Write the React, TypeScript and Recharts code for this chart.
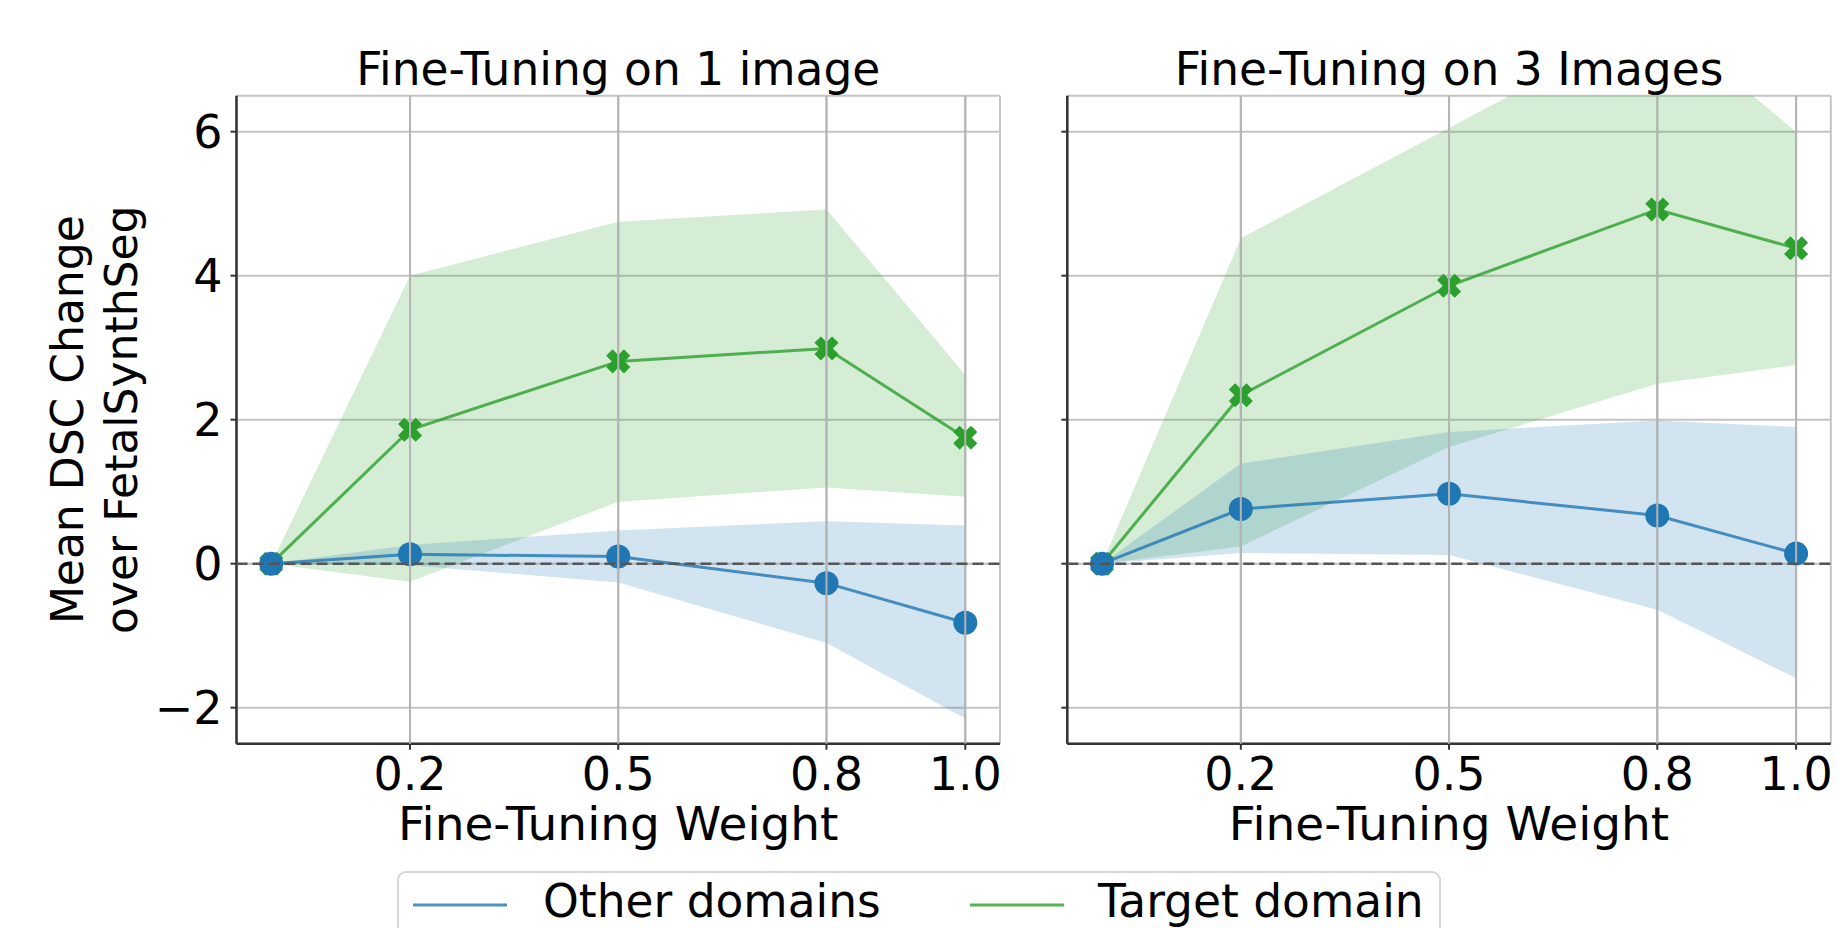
import React from 'react';
import {
  ComposedChart,
  Area,
  Line,
  XAxis,
  YAxis,
  CartesianGrid,
  ReferenceLine,
} from 'recharts';

// Fine-tuning weights (x values)
const weights = [0, 0.2, 0.5, 0.8, 1.0];
const xTicks = [0.2, 0.5, 0.8, 1.0];
const yTicks = [-2, 0, 2, 4, 6];

// Panel 1: Fine-Tuning on 1 image
const other1Mean = [0, 0.13, 0.1, -0.27, -0.82];
const other1Low = [0, -0.02, -0.26, -1.1, -2.15];
const other1High = [0, 0.26, 0.46, 0.59, 0.53];
const target1Mean = [0, 1.86, 2.81, 2.99, 1.75];
const target1Low = [0, -0.25, 0.86, 1.06, 0.93];
const target1High = [0, 4.0, 4.75, 4.92, 2.62];

// Panel 2: Fine-Tuning on 3 Images
const other3Mean = [0, 0.76, 0.97, 0.67, 0.14];
const other3Low = [0, 0.15, 0.12, -0.64, -1.59];
const other3High = [0, 1.39, 1.83, 1.99, 1.9];
const target3Mean = [0, 2.34, 3.86, 4.92, 4.38];
const target3Low = [0, 0.24, 1.62, 2.5, 2.76];
const target3High = [0, 4.52, 6.05, 7.6, 6.0];

const titles = ['Fine-Tuning on 1 image', 'Fine-Tuning on 3 Images'];
const xLabel = 'Fine-Tuning Weight';
const yLabelLines = ['Mean DSC Change', 'over FetalSynthSeg'];
const legendLabels = ['Other domains', 'Target domain'];

const BLUE = '#1f77b4';
const GREEN = '#2ca02c';
const FONT = 'DejaVu Sans';

function buildRows(oMean: number[], oLow: number[], oHigh: number[], tMean: number[], tLow: number[], tHigh: number[]) {
  return weights.map((w, i) => ({
    w,
    oMean: oMean[i],
    oBand: [oLow[i], oHigh[i]],
    tMean: tMean[i],
    tBand: [tLow[i], tHigh[i]],
  }));
}

const rows1 = buildRows(other1Mean, other1Low, other1High, target1Mean, target1Low, target1High);
const rows3 = buildRows(other3Mean, other3Low, other3High, target3Mean, target3Low, target3High);

const fmtY = (v: number) => (v < 0 ? `\u2212${Math.abs(v)}` : `${v}`);

function CircleDot(props: any) {
  const { cx, cy, index } = props;
  if (cx == null || cy == null) return <g key={`c-${index}`} />;
  return <circle key={`c-${index}`} cx={cx} cy={cy} r={12} fill={BLUE} />;
}

function XDot(props: any) {
  const { cx, cy, index } = props;
  if (cx == null || cy == null) return <g key={`x-${index}`} />;
  const s = 12.5;
  const w = 4.5;
  const pts = `${w},${s} ${w},${w} ${s},${w} ${s},${-w} ${w},${-w} ${w},${-s} ${-w},${-s} ${-w},${-w} ${-s},${-w} ${-s},${w} ${-w},${w} ${-w},${s}`;
  return (
    <polygon
      key={`x-${index}`}
      points={pts}
      transform={`translate(${cx},${cy}) rotate(45)`}
      fill={GREEN}
    />
  );
}

type PanelProps = {
  data: any[];
  left: number;
  width: number;
  yAxisWidth: number;
  marginRight: number;
  showYLabels: boolean;
};

const PLOT_TOP = 95.7;
const PLOT_BOTTOM = 743.7;
const H = 928;

function Panel({ data, left, width, yAxisWidth, marginRight, showYLabels }: PanelProps) {
  return (
    <div style={{ position: 'absolute', left, top: 0 }}>
      <ComposedChart
        width={width}
        height={H}
        data={data}
        margin={{ top: PLOT_TOP, right: marginRight, bottom: 0, left: 0 }}
      >
        <CartesianGrid stroke="#c4c4c4" strokeWidth={2} />
        <XAxis
          dataKey="w"
          type="number"
          domain={[-0.05, 1.05]}
          ticks={xTicks}
          interval={0}
          height={H - PLOT_BOTTOM}
          tickFormatter={(v: number) => v.toFixed(1)}
          axisLine={{ stroke: '#333', strokeWidth: 2.5 }}
          tickLine={{ stroke: '#333', strokeWidth: 2 }}
          tickSize={6}
          tickMargin={8}
          tick={{ fontSize: 46, fill: '#000', fontFamily: FONT }}
        />
        <YAxis
          type="number"
          domain={[-2.5, 6.5]}
          ticks={yTicks}
          interval={0}
          allowDataOverflow
          width={yAxisWidth}
          tickFormatter={showYLabels ? fmtY : () => ''}
          axisLine={{ stroke: '#333', strokeWidth: 2.5 }}
          tickLine={{ stroke: '#333', strokeWidth: 2 }}
          tickSize={6}
          tickMargin={8}
          tick={{ fontSize: 46, fill: '#000', fontFamily: FONT }}
        />
        <Area
          type="linear"
          dataKey="tBand"
          fill={GREEN}
          fillOpacity={0.2}
          stroke="none"
          isAnimationActive={false}
          activeDot={false}
          dot={false}
        />
        <Area
          type="linear"
          dataKey="oBand"
          fill={BLUE}
          fillOpacity={0.2}
          stroke="none"
          isAnimationActive={false}
          activeDot={false}
          dot={false}
        />
        <Line
          type="linear"
          dataKey="tMean"
          stroke={GREEN}
          strokeOpacity={0.8}
          strokeWidth={3}
          dot={XDot}
          activeDot={false}
          isAnimationActive={false}
        />
        <Line
          type="linear"
          dataKey="oMean"
          stroke={BLUE}
          strokeOpacity={0.8}
          strokeWidth={3}
          dot={CircleDot}
          activeDot={false}
          isAnimationActive={false}
        />
        {xTicks.map((t) => (
          <ReferenceLine key={`vg-${t}`} x={t} stroke="#b4b4b4" strokeWidth={2} zIndex={1500} />
        ))}
        <ReferenceLine y={0} stroke="#555" strokeWidth={2.5} strokeDasharray="11 5" zIndex={1600} />
      </ComposedChart>
    </div>
  );
}

const LEFT_PLOT = { x0: 236.5, x1: 1000 };
const RIGHT_PLOT = { x0: 1067.3, x1: 1830.8 };

export default function App() {
  const c1 = (LEFT_PLOT.x0 + LEFT_PLOT.x1) / 2;
  const c2 = (RIGHT_PLOT.x0 + RIGHT_PLOT.x1) / 2;
  const midY = (PLOT_TOP + PLOT_BOTTOM) / 2;
  return (
    <div
      style={{
        position: 'absolute',
        left: 0,
        top: 0,
        width: 1838,
        height: 928,
        background: '#fff',
        overflow: 'hidden',
      }}
    >
      <Panel data={rows1} left={0} width={1010} yAxisWidth={LEFT_PLOT.x0} marginRight={10} showYLabels />
      <Panel
        data={rows3}
        left={1040}
        width={798}
        yAxisWidth={RIGHT_PLOT.x0 - 1040}
        marginRight={798 - (RIGHT_PLOT.x1 - 1040)}
        showYLabels={false}
      />
      <svg
        width={1838}
        height={928}
        style={{ position: 'absolute', left: 0, top: 0, pointerEvents: 'none' }}
        fontFamily={FONT}
        fontSize={45.5}
      >
        <text x={c1} y={85} textAnchor="middle" fill="#000">{titles[0]}</text>
        <text x={c2} y={85} textAnchor="middle" fill="#000">{titles[1]}</text>
        <text x={c1} y={840} textAnchor="middle" fill="#000" fontSize={47}>{xLabel}</text>
        <text x={c2} y={840} textAnchor="middle" fill="#000" fontSize={47}>{xLabel}</text>
        <text transform={`translate(83,${midY}) rotate(-90)`} textAnchor="middle" fill="#000" fontSize={44}>{yLabelLines[0]}</text>
        <text transform={`translate(137,${midY}) rotate(-90)`} textAnchor="middle" fill="#000" fontSize={44}>{yLabelLines[1]}</text>
        <rect x={398} y={872} width={1042} height={120} rx={8} ry={8} fill="#fff" fillOpacity={0.8} stroke="#d6d6d6" strokeWidth={2} />
        <line x1={413} y1={905} x2={507} y2={905} stroke={BLUE} strokeOpacity={0.8} strokeWidth={3} />
        <text x={543} y={917} fill="#000">{legendLabels[0]}</text>
        <line x1={970} y1={905} x2={1064} y2={905} stroke={GREEN} strokeOpacity={0.8} strokeWidth={3} />
        <text x={1098} y={917} fill="#000">{legendLabels[1]}</text>
      </svg>
    </div>
  );
}
